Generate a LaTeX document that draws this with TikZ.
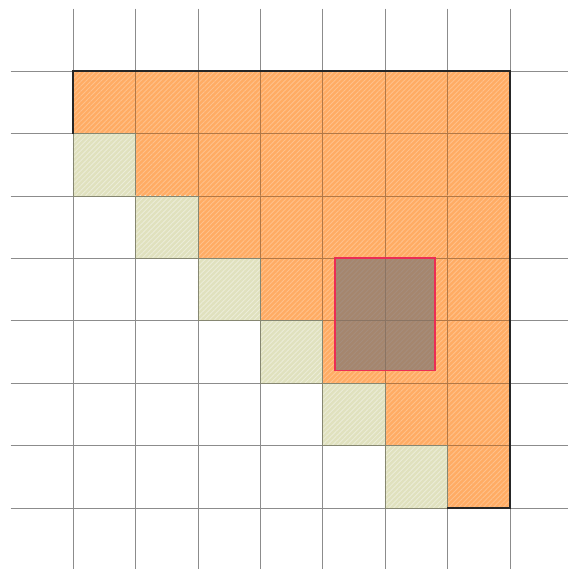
\documentclass[tikz,border=0pt]{standalone}
\usepackage{tikz}
\usetikzlibrary{patterns.meta}
\definecolor{cellorange}{RGB}{255,172,100}
\definecolor{cellgreen}{RGB}{224,225,190}
\definecolor{boxgray}{RGB}{118,114,116}
\definecolor{boxred}{RGB}{235,45,85}

\begin{document}
\begin{tikzpicture}[
    y=-1cm,
    gridline/.style={draw=gray!90, very thin},
    upper/.style={preaction={fill=cellorange}, pattern={Lines[angle=45,distance=1.6pt,line width=0.4pt]}, pattern color=cellorange!75!white, draw=cellorange!70!black, very thin},
    diag/.style={preaction={fill=cellgreen}, pattern={Lines[angle=45,distance=1.6pt,line width=0.4pt]}, pattern color=cellgreen!60!white, draw=cellgreen!60!black, very thin},
    outline/.style={draw=black!85, thick},
    window/.style={fill=boxgray, fill opacity=0.65, draw=boxred, thick, draw opacity=1}
]
\useasboundingbox (-1.17,-1.14) rectangle (7.93,7.98);

% Grid
\foreach \i in {0,...,8} {
    \draw[gridline] (\i,-1) -- (\i,8.5);
    \draw[gridline] (-1,\i) -- (8.5,\i);
}

% Upper triangle and diagonal below it
\foreach \r in {0,...,6} {
    \foreach \c in {\r,...,6} {
        \path[upper] (\c,\r) rectangle ++(1,1);
    }
}
\foreach \r in {1,...,6} {
    \pgfmathtruncatemacro{\c}{\r-1}
    \path[diag] (\c,\r) rectangle ++(1,1);
}

% Border
\draw[outline] (0,1) -- (0,0) -- (7,0) -- (7,7) -- (6,7);

% Window
\draw[window] (4.2,3) rectangle (5.8,4.8);

\end{tikzpicture}
\end{document}
